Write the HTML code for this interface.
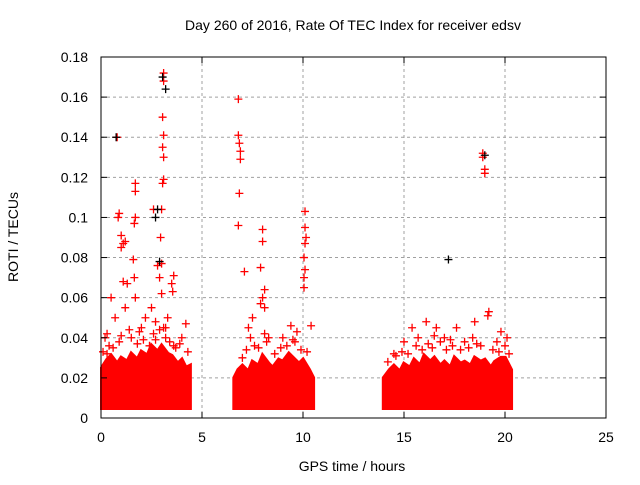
<!DOCTYPE html>
<html><head><meta charset="utf-8"><style>
body{margin:0;background:#fff;}
svg text{font-family:"Liberation Sans",sans-serif;font-size:14px;fill:#000;}
</style></head><body>
<svg id="chart" width="640" height="480" viewBox="0 0 640 480">
<rect width="640" height="480" fill="#fff"/>
<text x="353" y="30" text-anchor="middle">Day 260 of 2016, Rate Of TEC Index for receiver edsv</text>
<text x="352" y="471" text-anchor="middle">GPS time / hours</text>
<text transform="translate(18,237) rotate(-90)" text-anchor="middle">ROTI / TECUs</text>
<g id="grid"></g><g id="bands"></g><g id="pts"></g><g id="axes"></g>
</svg>
<script>
const xTicks=[0,5,10,15,20,25];
const yTicks=[0,0.02,0.04,0.06,0.08,0.1,0.12,0.14,0.16,0.18];
const yTickLabels=["0","0.02","0.04","0.06","0.08","0.1","0.12","0.14","0.16","0.18"];
const band1T=[0.05,0.3,0.5,0.8,1,1.3,1.5,1.8,2,2.3,2.5,2.8,3,3.3,3.5,3.8,4,4.2,4.4];
const band1Hi=[0.025,0.029,0.031,0.027,0.03,0.028,0.032,0.029,0.033,0.031,0.036,0.033,0.036,0.032,0.031,0.027,0.029,0.025,0.026];
const band2T=[6.6,6.8,7,7.3,7.5,7.8,8,8.3,8.5,8.8,9,9.3,9.5,9.8,10,10.3,10.5];
const band2Hi=[0.02,0.024,0.026,0.023,0.028,0.026,0.031,0.027,0.025,0.029,0.028,0.032,0.03,0.027,0.029,0.024,0.02];
const band3T=[14,14.3,14.5,14.8,15,15.3,15.5,15.8,16,16.3,16.5,16.8,17,17.3,17.5,17.8,18,18.3,18.5,18.8,19,19.3,19.5,19.8,20,20.3];
const band3Hi=[0.02,0.024,0.026,0.023,0.027,0.025,0.029,0.026,0.031,0.028,0.03,0.026,0.028,0.025,0.03,0.027,0.028,0.026,0.03,0.028,0.029,0.025,0.028,0.03,0.03,0.024];
const bandLo=0.005;
const redT=[0.8,0.9,0.85,1.0,1.1,1.0,1.2,1.3,1.1,1.7,1.7,1.7,1.65,1.6,1.65,1.7,2.6,2.8,3.1,3.1,3.05,3.1,3.05,3.1,3.1,3.05,3.0,2.95,3.0,2.9,3.0,3.6,3.5,3.55,4.2,0.5,0.7,1.2,2.2,2.5,3.3,2.0,0.3,1.4,2.7,3.2,0.2,4.0,
6.8,6.8,6.85,6.9,6.9,6.85,6.8,7.1,7.9,8.0,8.0,8.1,8.0,7.9,8.1,7.5,7.3,10.1,10.1,10.15,10.1,10.05,10.1,10.05,10.05,10.4,9.4,9.0,9.7,8.3,
18.9,18.9,19.0,19.0,19.2,19.15,18.5,16.1,15.4,16.6,17.6,14.5,15.0,19.8,20.1,17.0,18.0,
0.1,0.4,0.6,0.9,1.5,1.8,2.1,2.4,2.6,2.9,3.2,3.4,3.7,3.9,4.3,0.3,1.0,1.9,2.7,3.1,3.6,
7.0,7.2,7.6,7.8,8.2,8.6,8.9,9.2,9.6,9.9,10.2,7.4,8.1,9.5,
14.2,14.6,14.9,15.2,15.6,15.9,16.2,16.4,16.8,17.1,17.4,17.8,18.2,18.6,18.8,19.4,19.7,20.0,20.2,15.7,16.5,17.3,18.4,19.6];
const redV=[0.14,0.102,0.1,0.091,0.087,0.085,0.088,0.067,0.068,0.117,0.113,0.1,0.097,0.079,0.07,0.06,0.104,0.076,0.172,0.168,0.15,0.141,0.135,0.13,0.119,0.117,0.104,0.09,0.077,0.07,0.062,0.071,0.067,0.063,0.047,0.06,0.05,0.055,0.05,0.055,0.05,0.045,0.042,0.044,0.048,0.045,0.04,0.04,
0.159,0.141,0.137,0.133,0.129,0.112,0.096,0.073,0.075,0.094,0.088,0.064,0.06,0.057,0.055,0.05,0.045,0.103,0.095,0.09,0.087,0.08,0.074,0.07,0.065,0.046,0.046,0.04,0.043,0.04,
0.132,0.13,0.124,0.122,0.053,0.051,0.048,0.048,0.045,0.045,0.045,0.032,0.038,0.043,0.04,0.04,0.038,
0.033,0.036,0.035,0.038,0.04,0.037,0.039,0.036,0.042,0.044,0.04,0.038,0.035,0.037,0.033,0.032,0.041,0.043,0.039,0.045,0.036,
0.03,0.034,0.036,0.035,0.038,0.032,0.035,0.036,0.038,0.034,0.033,0.04,0.042,0.039,
0.028,0.031,0.033,0.032,0.036,0.034,0.037,0.035,0.038,0.034,0.036,0.034,0.035,0.037,0.036,0.034,0.033,0.036,0.032,0.04,0.041,0.039,0.04,0.038];
const blackT=[3.05,3.2,2.7,2.8,2.9,17.2,19.0,0.75];
const blackV=[0.17,0.164,0.1,0.104,0.078,0.079,0.131,0.14];
const NS="http://www.w3.org/2000/svg";
const X=t=>101+t*(505/25);
const Y=v=>418-v*(361/0.18);
function mk(tag,parent,attrs){const e=document.createElementNS(NS,tag);for(const k in attrs)e.setAttribute(k,attrs[k]);document.getElementById(parent).appendChild(e);return e;}
xTicks.forEach((t,i)=>{
 if(i>0&&i<xTicks.length-1){const g=mk('line','grid',{x1:X(t),x2:X(t),y1:57,y2:418,stroke:'#a0a0a0','stroke-dasharray':'3,3'});
 
 }
 const l=mk('text','axes',{x:X(t),y:442,'text-anchor':'middle'});l.textContent=t;
 
 
 mk('line','axes',{x1:X(t),x2:X(t),y1:418,y2:412,stroke:'#000'});
 mk('line','axes',{x1:X(t),x2:X(t),y1:57,y2:63,stroke:'#000'});
});
yTicks.forEach((v,i)=>{
 if(i>0&&i<yTicks.length-1){const g=mk('line','grid',{x1:101,x2:606,y1:Y(v),y2:Y(v),stroke:'#a0a0a0','stroke-dasharray':'3,3'});
 
 }
 const l=mk('text','axes',{x:88,y:Y(v)+5,'text-anchor':'end'});l.textContent=yTickLabels[i];
 
 
 mk('line','axes',{x1:101,x2:107,y1:Y(v),y2:Y(v),stroke:'#000'});
 mk('line','axes',{x1:606,x2:600,y1:Y(v),y2:Y(v),stroke:'#000'});
});
function band(T,H,name){
 let d='M'+X(T[0])+','+Y(bandLo);
 T.forEach((t,i)=>{d+=' L'+X(t)+','+Y(H[i]);});
 d+=' L'+X(T[T.length-1])+','+Y(bandLo)+' Z';
 const p=mk('path','bands',{d:d,fill:'#ff0000',stroke:'#ff0000','stroke-width':4,'stroke-linejoin':'miter'});
 
 
}
band(band1T,band1Hi,'dense-points-segment-1');
band(band2T,band2Hi,'dense-points-segment-2');
band(band3T,band3Hi,'dense-points-segment-3');
function plus(t,v,c,name){
 const x=X(t),y=Y(v);
 const p=mk('path','pts',{d:`M${x-4},${y}H${x+4}M${x},${y-4}V${y+4}`,stroke:c,'stroke-width':1.3});
 
 
}
redT.forEach((t,i)=>plus(t,redV[i],'#ff0000','roti-point'));
blackT.forEach((t,i)=>plus(t,blackV[i],'#000000','roti-point-black'));
const fr=mk('rect','axes',{x:101,y:57,width:505,height:361,fill:'none',stroke:'#000'});


</script>
</body></html>
